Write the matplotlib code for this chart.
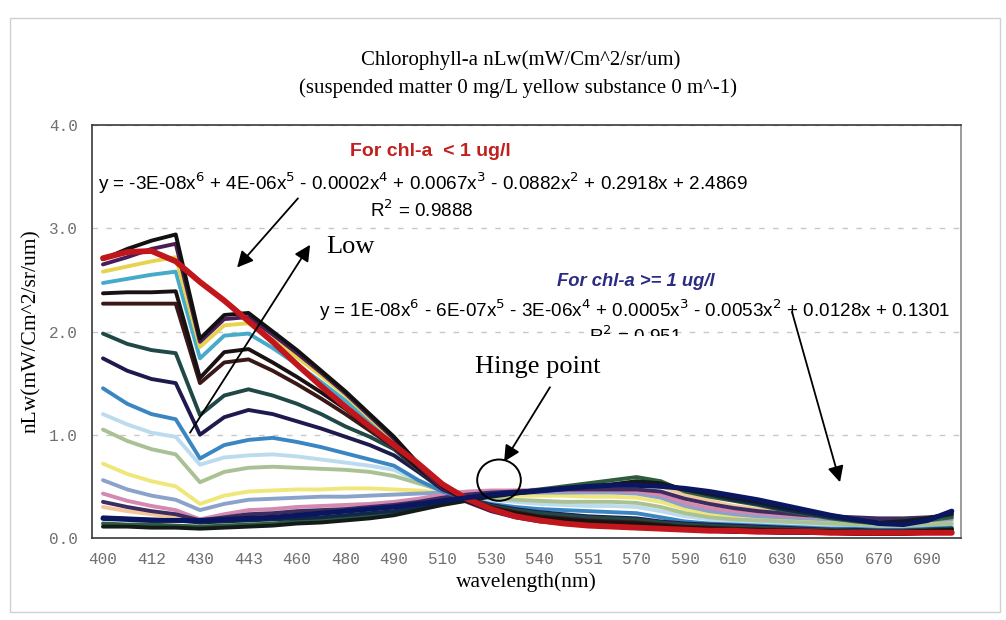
import matplotlib
matplotlib.use('Agg')
import matplotlib.pyplot as plt
from matplotlib.patches import Ellipse, Rectangle

# band centres (nm); only every other one gets a tick label
wavelengths = [400, 406, 412, 420, 430, 436, 443, 450, 460, 470, 480, 485, 490, 500,
               510, 520, 530, 535, 540, 545, 551, 560, 570, 580, 590, 600, 610, 620,
               630, 640, 650, 660, 670, 680, 690, 700]
tick_labels = [str(w) for w in wavelengths[::2]]

# nLw spectra, lowest chlorophyll first
nlw_01 = [2.70, 2.80, 2.88, 2.94, 1.93, 2.16, 2.18, 2.00, 1.82, 1.62, 1.42, 1.20, 0.98, 0.72, 0.50, 0.36, 0.27, 0.21,
          0.17, 0.15, 0.13, 0.12, 0.11, 0.10, 0.08, 0.07, 0.06, 0.06, 0.05, 0.05, 0.05, 0.04, 0.04, 0.04, 0.05, 0.05]
nlw_02 = [2.65, 2.72, 2.80, 2.85, 1.90, 2.12, 2.14, 1.97, 1.79, 1.60, 1.40, 1.18, 0.96, 0.70, 0.48, 0.35, 0.26, 0.20,
          0.16, 0.14, 0.12, 0.11, 0.10, 0.09, 0.08, 0.07, 0.06, 0.06, 0.05, 0.05, 0.05, 0.04, 0.04, 0.04, 0.05, 0.05]
nlw_03 = [2.58, 2.63, 2.68, 2.72, 1.85, 2.06, 2.08, 1.92, 1.75, 1.57, 1.38, 1.16, 0.95, 0.70, 0.48, 0.36, 0.27, 0.21,
          0.17, 0.15, 0.13, 0.12, 0.11, 0.10, 0.08, 0.07, 0.07, 0.06, 0.06, 0.05, 0.05, 0.05, 0.04, 0.04, 0.05, 0.05]
nlw_04 = [2.47, 2.51, 2.55, 2.58, 1.74, 1.96, 1.98, 1.84, 1.68, 1.51, 1.33, 1.13, 0.93, 0.69, 0.48, 0.36, 0.27, 0.22,
          0.18, 0.16, 0.14, 0.13, 0.12, 0.11, 0.09, 0.08, 0.07, 0.07, 0.06, 0.06, 0.05, 0.05, 0.05, 0.05, 0.05, 0.06]
nlw_05 = [2.37, 2.38, 2.38, 2.39, 1.55, 1.80, 1.83, 1.70, 1.56, 1.41, 1.25, 1.07, 0.90, 0.68, 0.48, 0.37, 0.29, 0.24,
          0.20, 0.18, 0.16, 0.15, 0.14, 0.12, 0.10, 0.09, 0.08, 0.08, 0.07, 0.07, 0.06, 0.06, 0.06, 0.06, 0.07, 0.08]
nlw_06 = [2.27, 2.27, 2.27, 2.27, 1.50, 1.70, 1.73, 1.62, 1.49, 1.35, 1.20, 1.04, 0.88, 0.67, 0.48, 0.38, 0.30, 0.25,
          0.21, 0.19, 0.17, 0.16, 0.15, 0.13, 0.11, 0.10, 0.09, 0.08, 0.08, 0.07, 0.07, 0.06, 0.06, 0.06, 0.07, 0.08]
nlw_07 = [1.98, 1.88, 1.82, 1.79, 1.19, 1.38, 1.44, 1.38, 1.30, 1.20, 1.08, 0.98, 0.86, 0.66, 0.48, 0.38, 0.31, 0.27,
          0.24, 0.22, 0.20, 0.19, 0.18, 0.15, 0.13, 0.12, 0.11, 0.10, 0.09, 0.08, 0.08, 0.07, 0.07, 0.07, 0.08, 0.09]
nlw_08 = [1.74, 1.62, 1.54, 1.50, 1.00, 1.17, 1.24, 1.20, 1.13, 1.06, 0.98, 0.90, 0.80, 0.64, 0.47, 0.38, 0.32, 0.28,
          0.25, 0.23, 0.21, 0.20, 0.19, 0.16, 0.14, 0.13, 0.12, 0.11, 0.10, 0.09, 0.08, 0.08, 0.07, 0.07, 0.08, 0.09]
nlw_09 = [1.45, 1.30, 1.20, 1.15, 0.77, 0.90, 0.95, 0.97, 0.93, 0.88, 0.82, 0.76, 0.70, 0.56, 0.45, 0.38, 0.33, 0.30,
          0.28, 0.27, 0.26, 0.25, 0.24, 0.20, 0.16, 0.14, 0.13, 0.12, 0.11, 0.10, 0.09, 0.09, 0.08, 0.08, 0.09, 0.10]
nlw_10 = [1.20, 1.10, 1.02, 0.98, 0.71, 0.78, 0.80, 0.81, 0.79, 0.76, 0.73, 0.70, 0.66, 0.55, 0.46, 0.41, 0.37, 0.35,
          0.33, 0.32, 0.31, 0.31, 0.30, 0.26, 0.21, 0.18, 0.16, 0.15, 0.14, 0.13, 0.12, 0.11, 0.10, 0.10, 0.11, 0.12]
nlw_11 = [1.05, 0.94, 0.86, 0.81, 0.54, 0.64, 0.68, 0.69, 0.68, 0.67, 0.66, 0.64, 0.60, 0.53, 0.46, 0.42, 0.39, 0.37,
          0.36, 0.35, 0.35, 0.35, 0.34, 0.30, 0.24, 0.20, 0.18, 0.17, 0.16, 0.15, 0.14, 0.13, 0.12, 0.12, 0.13, 0.14]
nlw_12 = [0.72, 0.62, 0.55, 0.50, 0.33, 0.41, 0.45, 0.46, 0.47, 0.47, 0.48, 0.48, 0.47, 0.46, 0.44, 0.43, 0.42, 0.41,
          0.41, 0.41, 0.40, 0.40, 0.39, 0.35, 0.28, 0.23, 0.20, 0.19, 0.18, 0.17, 0.16, 0.15, 0.14, 0.14, 0.15, 0.16]
nlw_13 = [0.56, 0.47, 0.41, 0.37, 0.27, 0.33, 0.37, 0.38, 0.39, 0.40, 0.40, 0.41, 0.42, 0.43, 0.44, 0.44, 0.44, 0.44,
          0.44, 0.44, 0.44, 0.44, 0.43, 0.39, 0.31, 0.26, 0.23, 0.21, 0.20, 0.19, 0.18, 0.17, 0.16, 0.16, 0.17, 0.18]
nlw_14 = [0.43, 0.36, 0.31, 0.27, 0.18, 0.23, 0.27, 0.28, 0.30, 0.31, 0.32, 0.33, 0.35, 0.38, 0.42, 0.45, 0.46, 0.46,
          0.46, 0.46, 0.46, 0.46, 0.45, 0.42, 0.34, 0.29, 0.26, 0.24, 0.22, 0.21, 0.20, 0.19, 0.18, 0.18, 0.19, 0.20]
nlw_15 = [0.35, 0.30, 0.26, 0.23, 0.17, 0.20, 0.23, 0.24, 0.26, 0.27, 0.28, 0.30, 0.32, 0.35, 0.39, 0.42, 0.44, 0.45,
          0.46, 0.47, 0.47, 0.47, 0.47, 0.45, 0.38, 0.33, 0.29, 0.26, 0.24, 0.22, 0.21, 0.20, 0.19, 0.19, 0.20, 0.22]
nlw_16 = [0.30, 0.26, 0.23, 0.20, 0.15, 0.18, 0.21, 0.22, 0.24, 0.25, 0.26, 0.28, 0.30, 0.34, 0.38, 0.41, 0.44, 0.46,
          0.47, 0.48, 0.49, 0.50, 0.52, 0.50, 0.42, 0.36, 0.31, 0.28, 0.25, 0.23, 0.21, 0.19, 0.17, 0.17, 0.18, 0.20]
nlw_17 = [0.20, 0.19, 0.18, 0.17, 0.15, 0.16, 0.17, 0.18, 0.19, 0.20, 0.22, 0.24, 0.26, 0.30, 0.34, 0.38, 0.41, 0.43,
          0.45, 0.47, 0.49, 0.51, 0.53, 0.52, 0.47, 0.42, 0.37, 0.33, 0.28, 0.24, 0.20, 0.17, 0.15, 0.16, 0.19, 0.23]
nlw_18 = [0.14, 0.13, 0.13, 0.12, 0.11, 0.12, 0.13, 0.14, 0.16, 0.17, 0.19, 0.21, 0.24, 0.28, 0.33, 0.37, 0.41, 0.44,
          0.47, 0.50, 0.53, 0.56, 0.59, 0.55, 0.45, 0.40, 0.36, 0.32, 0.27, 0.23, 0.19, 0.16, 0.14, 0.15, 0.17, 0.20]
nlw_19 = [0.11, 0.11, 0.10, 0.10, 0.09, 0.10, 0.11, 0.12, 0.14, 0.15, 0.17, 0.19, 0.22, 0.27, 0.32, 0.36, 0.40, 0.43,
          0.46, 0.48, 0.50, 0.52, 0.55, 0.53, 0.47, 0.43, 0.39, 0.35, 0.30, 0.26, 0.22, 0.18, 0.15, 0.16, 0.19, 0.24]

# 6th-order polynomial trend lines for the two chlorophyll groups
trend_low = [2.71, 2.77, 2.78, 2.68, 2.48, 2.30, 2.10, 1.90, 1.68, 1.47, 1.27, 1.08, 0.90, 0.72, 0.52, 0.38, 0.28, 0.21,
             0.17, 0.14, 0.12, 0.11, 0.10, 0.09, 0.08, 0.07, 0.07, 0.06, 0.06, 0.06, 0.05, 0.05, 0.05, 0.05, 0.05, 0.05]
trend_high = [0.19, 0.18, 0.17, 0.17, 0.17, 0.18, 0.19, 0.20, 0.22, 0.24, 0.26, 0.28, 0.30, 0.33, 0.36, 0.39, 0.42, 0.44,
              0.46, 0.48, 0.50, 0.51, 0.51, 0.50, 0.48, 0.45, 0.41, 0.37, 0.32, 0.27, 0.22, 0.18, 0.14, 0.13, 0.17, 0.26]

spectra = [
    (nlw_12, '#efe77a'), (nlw_10, '#bcdcee'), (nlw_11, '#a9c193'), (nlw_13, '#8aa3cb'),
    (nlw_16, '#f2c79e'), (nlw_14, '#d389b0'), (nlw_15, '#3e2c5f'),
    (nlw_09, '#3a86c3'), (nlw_04, '#46aacb'), (nlw_03, '#e6d451'),
    (nlw_08, '#1e1a4e'), (nlw_07, '#1f4846'), (nlw_06, '#3a1818'), (nlw_05, '#1a1212'),
    (nlw_02, '#4a1d58'), (nlw_01, '#111111'),
    (nlw_18, '#2f5c3a'), (nlw_17, '#10284a'), (nlw_19, '#121a1a'),
]

SERIF = 'Liberation Serif'
SANS = 'Liberation Sans'
MONO = 'Liberation Mono'

fig = plt.figure(figsize=(10.06, 6.2), dpi=100)
ax = fig.add_axes([0.0915, 0.1323, 0.8638, 0.666])

x = list(range(len(wavelengths)))
for vals, col in spectra:
    ax.plot(x, vals, color=col, lw=2.8, solid_capstyle='round', solid_joinstyle='round')
ax.plot(x, trend_low, color='#c0161c', lw=4.2, solid_capstyle='round')
ax.plot(x, trend_high, color='#0b1660', lw=3.6, solid_capstyle='round')

ax.set_xlim(-0.45, 35.38)
ax.set_ylim(0, 4)
ax.set_xticks(x[::2])
ax.set_xticklabels(tick_labels, family=MONO, fontsize=11.5, color='#707070')
ax.set_yticks([0, 1, 2, 3, 4])
ax.set_yticklabels(['%.1f' % v for v in [0, 1, 2, 3, 4]], family=MONO, fontsize=11.5, color='#707070')
ax.tick_params(length=0, pad=10)
ax.yaxis.grid(True, ls=(0, (4, 6)), color='#c8c8c8', lw=1.0)
ax.set_axisbelow(True)
for s in ax.spines.values():
    s.set_color('#3a3a3a')
    s.set_linewidth(1.2)
ax.spines['right'].set_color('#8a8a8a')

ax.set_xlabel('wavelength(nm)', family=SERIF, fontsize=15.5, labelpad=4)
ax.set_ylabel('nLw(mW/Cm^2/sr/um)', family=SERIF, fontsize=15.5, labelpad=6)

fig.text(0.518, 0.903, 'Chlorophyll-a nLw(mW/Cm^2/sr/um)', family=SERIF, fontsize=15,
         ha='center', va='center')
fig.text(0.515, 0.858, '(suspended matter 0 mg/L yellow substance 0 m^-1)', family=SERIF,
         fontsize=15, ha='center', va='center')

# trend line equations
ax.text(13.48, 3.74, 'For chl-a  < 1 ug/l', family=SANS, fontsize=14, weight='bold',
        color='#c0201e', ha='center', va='center')
ax.text(13.2, 3.44, 'y = -3E-08x$^6$ + 4E-06x$^5$ - 0.0002x$^4$ + 0.0067x$^3$ - 0.0882x$^2$ + 0.2918x + 2.4869',
        family=SANS, fontsize=13.6, ha='center', va='center')
ax.text(13.15, 3.17, 'R$^2$ = 0.9888', family=SANS, fontsize=13.6, ha='center', va='center')
ax.text(21.98, 2.48, 'For chl-a >= 1 ug/l', family=SANS, fontsize=13.2, weight='bold', style='italic',
        color='#2b2b82', ha='center', va='center')
ax.text(21.94, 2.21, 'y = 1E-08x$^6$ - 6E-07x$^5$ - 3E-06x$^4$ + 0.0005x$^3$ - 0.0053x$^2$ + 0.0128x + 0.1301',
        family=SANS, fontsize=13.6, ha='center', va='center')
r2_high = ax.text(21.94, 1.95, 'R$^2$ = 0.951', family=SANS, fontsize=13.6, ha='center', va='center',
                  clip_on=True)
# lower half of this label is hidden behind the plot
r2_high.set_clip_path(Rectangle((18, 1.955), 8, 1, transform=ax.transData))

ax.text(10.2, 2.82, 'Low', family=SERIF, fontsize=19, ha='center', va='center')
ax.text(17.94, 1.66, 'Hinge point', family=SERIF, fontsize=19, ha='center', va='center')

arrow = dict(arrowstyle='-|>', mutation_scale=24, lw=1.3, color='black', shrinkA=0, shrinkB=0)
ax.annotate('', xy=(5.53, 2.62), xytext=(8.04, 3.29), arrowprops=arrow)
ax.annotate('', xy=(8.54, 2.84), xytext=(3.59, 1.02), arrowprops=arrow)
ax.annotate('', xy=(16.54, 0.74), xytext=(18.43, 1.46), arrowprops=arrow)
ax.annotate('', xy=(30.39, 0.54), xytext=(28.41, 2.19), arrowprops=arrow)
ax.add_patch(Ellipse((16.33, 0.56), 1.8, 0.40, fill=False, ec='black', lw=1.4, zorder=5))

# outer chart-area frame
fig.patches.append(Rectangle((0.010, 0.013), 0.984, 0.958, transform=fig.transFigure,
                             fill=False, ec='#d0d0d0', lw=1.0))

fig.savefig('out.png', dpi=100)
